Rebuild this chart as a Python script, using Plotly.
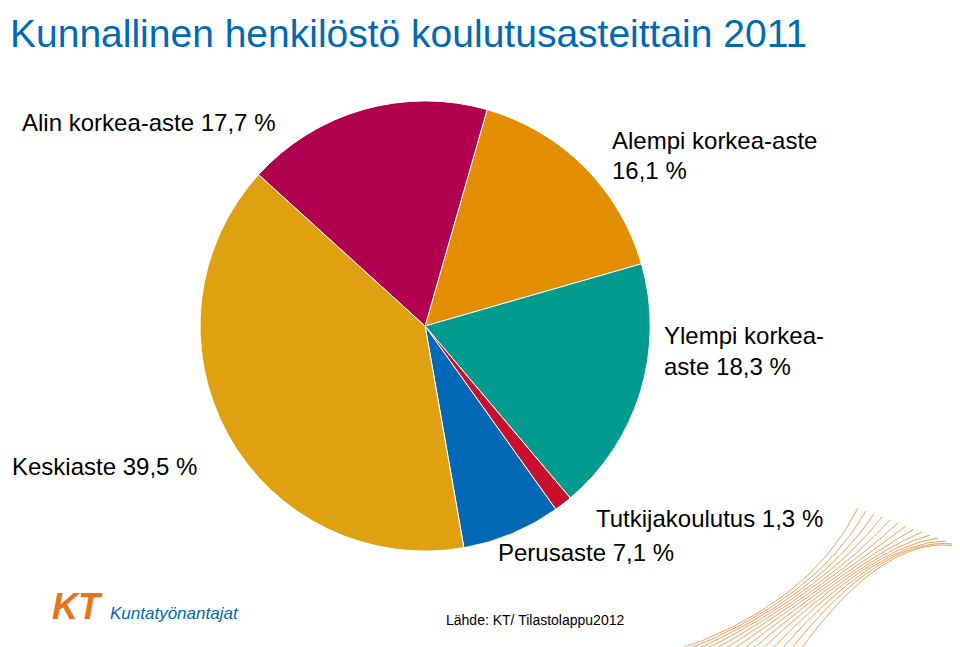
import plotly.graph_objects as go

labels = ["Alempi korkea-aste", "Ylempi korkea-aste", "Tutkijakoulutus", "Perusaste", "Keskiaste", "Alin korkea-aste"]
values = [16.1, 18.3, 1.3, 7.1, 39.5, 17.7]
colors = ["#E38E00", "#009B8E", "#C8102E", "#0068B4", "#E0A111", "#B0004E"]

fig = go.Figure(go.Pie(
    labels=labels, values=values, sort=False, direction="clockwise", rotation=16,
    marker=dict(colors=colors, line=dict(color="white", width=1)),
    textinfo="none", hoverinfo="label+value",
    domain=dict(x=[0.200, 0.669], y=[0.160, 0.857]),
))

font = dict(family="Liberation Sans, Arial", size=24, color="black")
notes = [
    (12, 114, "Alin korkea-aste 17,7 %"),
    (602, 132, "Alempi korkea-aste"),
    (602, 162, "16,1 %"),
    (654, 327, "Ylempi korkea-"),
    (654, 358, "aste 18,3 %"),
    (2, 458, "Keskiaste 39,5 %"),
    (586, 510, "Tutkijakoulutus 1,3 %"),
    (488, 544, "Perusaste 7,1 %"),
]
ann = [dict(x=x / 960, y=1 - y / 647, xref="paper", yref="paper", text=t, showarrow=False,
            xanchor="left", yanchor="middle", font=font) for x, y, t in notes]
ann.append(dict(x=0, y=1 - 2 / 647, xref="paper", yref="paper", text="Kunnallinen henkilöstö koulutusasteittain 2011",
                showarrow=False, xanchor="left", yanchor="top",
                font=dict(family="Liberation Sans, Arial", size=39, color="#0068B4")))
ann.append(dict(x=436 / 960, y=1 - 612 / 647, xref="paper", yref="paper", text="Lähde: KT/ Tilastolappu2012",
                showarrow=False, xanchor="left", yanchor="middle",
                font=dict(family="Liberation Sans, Arial", size=14, color="black")))
ann.append(dict(x=42 / 960, y=1 - 598 / 647, xref="paper", yref="paper", text="<b><i>KT</i></b>",
                showarrow=False, xanchor="left", yanchor="middle",
                font=dict(family="Liberation Sans, Arial", size=36, color="#E8731A")))
ann.append(dict(x=100 / 960, y=1 - 605 / 647, xref="paper", yref="paper", text="<i>Kuntatyönantajat</i>",
                showarrow=False, xanchor="left", yanchor="middle",
                font=dict(family="Liberation Sans, Arial", size=17, color="#0068B4")))

# decorative lines bottom right
shapes = []
for i in range(14):
    shapes.append(dict(type="path", xref="paper", yref="paper",
                       path=f"M {(660 + i * 10) / 960} {1 - 645 / 647} Q {(800 + i * 6) / 960} {1 - (600 - i * 6) / 647} {(850 + i * 8) / 960} {1 - (500 + i * 3) / 647}",
                       line=dict(color="#F0A060", width=1)))

fig.update_layout(width=960, height=647, margin=dict(l=0, r=0, t=0, b=0),
                  paper_bgcolor="white", showlegend=False, annotations=ann, shapes=shapes)
fig.write_html("out.html")
